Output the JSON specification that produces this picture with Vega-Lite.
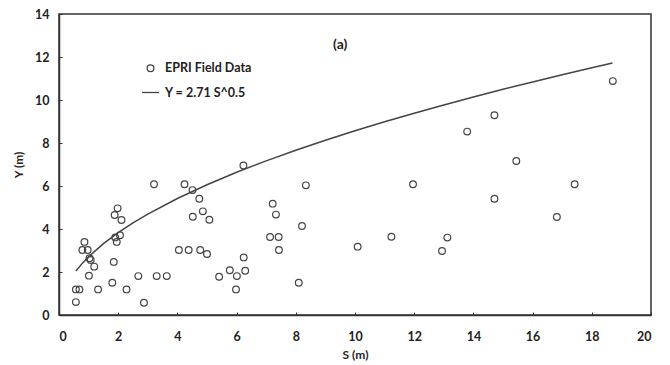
{
  "$schema": "https://vega.github.io/schema/vega-lite/v6.json",
  "width": 592,
  "height": 301,
  "autosize": "none",
  "padding": {"left": 59, "top": 14, "right": 19, "bottom": 50},
  "background": "white",
  "config": {
    "font": "Lato",
    "view": {"stroke": "#333", "strokeWidth": 1.5},
    "axis": {
      "domainColor": "#333", "domainWidth": 1.5, "tickColor": "#333", "tickSize": -3,
      "labelFont": "Lato", "labelFontWeight": "bold", "labelFontSize": 12.5, "labelColor": "#222",
      "titleFont": "Lato", "titleFontWeight": "bold", "titleFontSize": 12, "titleColor": "#222",
      "grid": false
    }
  },
  "datasets": {
    "obs": [
      {"S": 0.57, "Y": 0.6}, {"S": 0.57, "Y": 1.19}, {"S": 0.69, "Y": 1.19},
      {"S": 0.86, "Y": 3.4}, {"S": 0.79, "Y": 3.02}, {"S": 0.97, "Y": 3.02},
      {"S": 1.03, "Y": 2.64}, {"S": 1.07, "Y": 2.56}, {"S": 1.19, "Y": 2.25},
      {"S": 1.01, "Y": 1.83}, {"S": 1.32, "Y": 1.19}, {"S": 1.8, "Y": 1.5},
      {"S": 1.85, "Y": 2.47}, {"S": 1.88, "Y": 4.65}, {"S": 1.98, "Y": 4.96},
      {"S": 2.11, "Y": 4.42}, {"S": 1.9, "Y": 3.61}, {"S": 2.06, "Y": 3.71},
      {"S": 1.95, "Y": 3.4}, {"S": 2.28, "Y": 1.19}, {"S": 2.68, "Y": 1.81},
      {"S": 2.87, "Y": 0.57}, {"S": 3.21, "Y": 6.08}, {"S": 3.3, "Y": 1.81},
      {"S": 3.64, "Y": 1.81}, {"S": 4.05, "Y": 3.02}, {"S": 4.24, "Y": 6.08},
      {"S": 4.38, "Y": 3.02}, {"S": 4.51, "Y": 5.81}, {"S": 4.74, "Y": 5.41},
      {"S": 4.86, "Y": 4.82}, {"S": 4.52, "Y": 4.57}, {"S": 5.08, "Y": 4.43},
      {"S": 4.77, "Y": 3.02}, {"S": 5.0, "Y": 2.84}, {"S": 5.41, "Y": 1.78},
      {"S": 5.77, "Y": 2.08}, {"S": 6.01, "Y": 1.81}, {"S": 5.98, "Y": 1.19},
      {"S": 6.29, "Y": 2.06}, {"S": 6.24, "Y": 2.68}, {"S": 6.23, "Y": 6.95},
      {"S": 7.22, "Y": 5.18}, {"S": 7.33, "Y": 4.67}, {"S": 7.13, "Y": 3.63},
      {"S": 7.42, "Y": 3.63}, {"S": 7.43, "Y": 3.02}, {"S": 8.34, "Y": 6.03},
      {"S": 8.21, "Y": 4.14}, {"S": 8.1, "Y": 1.5}, {"S": 10.09, "Y": 3.18},
      {"S": 11.23, "Y": 3.64}, {"S": 11.96, "Y": 6.08}, {"S": 12.94, "Y": 2.98},
      {"S": 13.12, "Y": 3.6}, {"S": 13.79, "Y": 8.53}, {"S": 14.71, "Y": 9.29},
      {"S": 14.71, "Y": 5.41}, {"S": 15.45, "Y": 7.16}, {"S": 16.82, "Y": 4.56},
      {"S": 17.42, "Y": 6.08}, {"S": 18.71, "Y": 10.88}
    ],
    "fit": [
      {"S": 0.57, "Y": 2.046}, {"S": 0.8, "Y": 2.424}, {"S": 1, "Y": 2.71},
      {"S": 1.5, "Y": 3.319}, {"S": 2, "Y": 3.833}, {"S": 2.5, "Y": 4.285},
      {"S": 3, "Y": 4.694}, {"S": 4, "Y": 5.42}, {"S": 5, "Y": 6.06},
      {"S": 6, "Y": 6.638}, {"S": 7, "Y": 7.17}, {"S": 8, "Y": 7.665},
      {"S": 9, "Y": 8.13}, {"S": 10, "Y": 8.57}, {"S": 11, "Y": 8.988},
      {"S": 12, "Y": 9.388}, {"S": 13, "Y": 9.771}, {"S": 14, "Y": 10.14},
      {"S": 15, "Y": 10.496}, {"S": 16, "Y": 10.84}, {"S": 17, "Y": 11.174},
      {"S": 18, "Y": 11.498}, {"S": 18.7, "Y": 11.719}
    ]
  },
  "layer": [
    {
      "data": {"name": "fit"},
      "mark": {"type": "line", "color": "#444", "strokeWidth": 1.5},
      "encoding": {
        "x": {"field": "S", "type": "quantitative", "scale": {"domain": [0, 20], "nice": false}, "axis": {"values": [0,2,4,6,8,10,12,14,16,18,20], "title": "S (m)", "labelPadding": 18, "titlePadding": 7}},
        "y": {"field": "Y", "type": "quantitative", "scale": {"domain": [0, 14], "nice": false}, "axis": {"values": [0,2,4,6,8,10,12,14], "title": "Y (m)", "labelPadding": 13, "titlePadding": 9}}
      }
    },
    {
      "data": {"name": "obs"},
      "transform": [{"calculate": "'EPRI Field Data'", "as": "series"}],
      "mark": {"type": "point", "filled": false, "stroke": "#444", "strokeWidth": 1.2, "opacity": 1},
      "encoding": {
        "x": {"field": "S", "type": "quantitative"},
        "y": {"field": "Y", "type": "quantitative"},
        "shape": {"field": "series", "type": "nominal", "scale": {"domain": ["EPRI Field Data", "Y = 2.71 S^0.5"], "range": ["circle", "stroke"]},
          "legend": {"title": null, "orient": "none", "legendX": 82, "legendY": 48, "labelFont": "Lato", "labelFontWeight": "bold", "labelFontSize": 12.5, "labelColor": "#222", "symbolStrokeColor": "#444", "symbolStrokeWidth": 1.3, "symbolFillColor": "transparent", "rowPadding": 8, "labelOffset": 5}},
        "size": {"field": "series", "type": "nominal", "scale": {"domain": ["EPRI Field Data", "Y = 2.71 S^0.5"], "range": [45, 290]},
          "legend": {"title": null, "orient": "none", "legendX": 82, "legendY": 48, "labelFont": "Lato", "labelFontWeight": "bold", "labelFontSize": 12.5, "labelColor": "#222", "symbolStrokeColor": "#444", "symbolStrokeWidth": 1.3, "symbolFillColor": "transparent", "rowPadding": 8, "labelOffset": 5}}
      }
    },
    {
      "mark": {"type": "text", "text": "(a)", "font": "Lato", "fontWeight": "bold", "fontSize": 14, "color": "#222"},
      "data": {"values": [{}]},
      "encoding": {
        "x": {"datum": 9.5, "type": "quantitative"},
        "y": {"datum": 12.55, "type": "quantitative"}
      }
    }
  ]
}
